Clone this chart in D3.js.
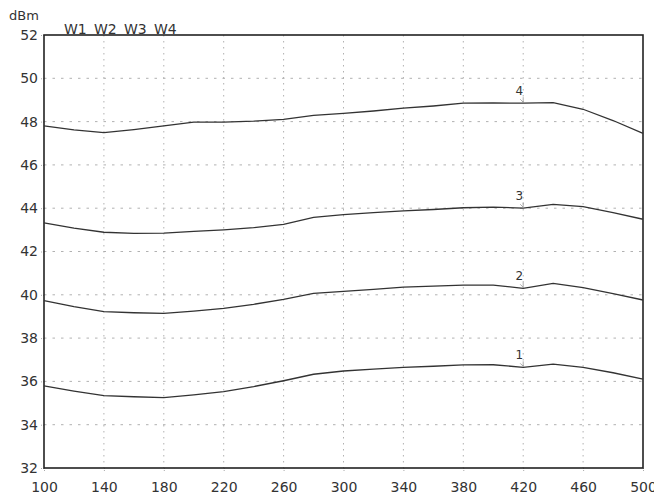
<!DOCTYPE html>
<html>
<head>
<meta charset="utf-8">
<script src="https://cdn.jsdelivr.net/npm/d3@7"></script>
<style>
  body { margin: 0; background: #fff; overflow: hidden; }
  svg text { font-family: "DejaVu Sans", Verdana, sans-serif; fill: #333; }
</style>
</head>
<body>
<div id="chart"></div>
<script>
// frequency points (MHz)
var freqs = [100,120,140,160,180,200,220,240,260,280,300,320,340,360,380,400,420,440,460,480,500];

// output power per trace (dBm)
var trace1 = [35.79,35.55,35.34,35.29,35.25,35.38,35.53,35.76,36.03,36.33,36.48,36.57,36.65,36.70,36.76,36.77,36.65,36.80,36.65,36.40,36.10];
var trace2 = [39.73,39.45,39.22,39.17,39.14,39.25,39.37,39.56,39.79,40.07,40.16,40.25,40.35,40.40,40.45,40.45,40.30,40.53,40.33,40.05,39.76];
var trace3 = [43.32,43.08,42.89,42.84,42.85,42.93,43.00,43.10,43.25,43.58,43.70,43.80,43.88,43.94,44.02,44.05,44.00,44.18,44.07,43.80,43.49];
var trace4 = [47.80,47.62,47.49,47.63,47.80,47.98,47.98,48.02,48.10,48.29,48.38,48.49,48.62,48.72,48.85,48.86,48.85,48.88,48.57,48.05,47.46];

var traceNames = ["1","2","3","4"];
var legendLabels = ["W1","W2","W3","W4"];
var markerFreq = 420;

var xTicks = [100,140,180,220,260,300,340,380,420,460,500];
var yTicks = [32,34,36,38,40,42,44,46,48,50,52];

var W = 654, H = 495;
var margin = {top: 35, right: 11, bottom: 27, left: 44};

var svg = d3.select("#chart").append("svg")
            .attr("width", W)
            .attr("height", H);

var x = d3.scaleLinear().domain([100,500]).range([margin.left, W - margin.right]);
var y = d3.scaleLinear().domain([32,52]).range([H - margin.bottom, margin.top]);

// grid
svg.append("g").selectAll("line.vg")
   .data(xTicks.slice(1, -1))
   .enter().append("line")
     .attr("x1", d => x(d)).attr("x2", d => x(d))
     .attr("y1", y(52)).attr("y2", y(32))
     .attr("stroke", "#a8a8a8")
     .attr("stroke-width", 0.9)
     .attr("stroke-dasharray", "1.5,4.5");

svg.append("g").selectAll("line.hg")
   .data(yTicks.slice(1, -1))
   .enter().append("line")
     .attr("x1", x(100)).attr("x2", x(500))
     .attr("y1", d => y(d)).attr("y2", d => y(d))
     .attr("stroke", "#a8a8a8")
     .attr("stroke-width", 0.9)
     .attr("stroke-dasharray", "2.5,6");

// axes
var xAxis = d3.axisBottom(x).tickValues(xTicks).tickSize(3).tickPadding(11);
var yAxis = d3.axisLeft(y).tickValues(yTicks).tickSize(3).tickPadding(3);

var gx = svg.append("g")
   .attr("transform", `translate(0,${y(32)})`)
   .call(xAxis);
var gy = svg.append("g")
   .attr("transform", `translate(${x(100)},0)`)
   .call(yAxis);

[gx, gy].forEach(function(g){
  g.select(".domain").remove();
  g.selectAll(".tick line").attr("stroke", "#aaa").attr("stroke-dasharray", "1,1");
  g.selectAll(".tick text").style("font-size", "14px").attr("fill", "#333");
});

// frame
svg.append("rect")
   .attr("x", x(100)).attr("y", y(52))
   .attr("width", x(500) - x(100))
   .attr("height", y(32) - y(52))
   .attr("fill", "none")
   .attr("stroke", "#222")
   .attr("stroke-width", 1.6);

// traces
var line = d3.line()
             .x((d, i) => x(freqs[i]))
             .y(d => y(d));

var traces = [trace1, trace2, trace3, trace4];

svg.append("g").selectAll("path.trace")
   .data(traces)
   .enter().append("path")
     .attr("d", line)
     .attr("fill", "none")
     .attr("stroke", "#333")
     .attr("stroke-width", 1.3);

// markers at 420
var mi = freqs.indexOf(markerFreq);
var markers = svg.append("g").selectAll("g.marker")
   .data(traces)
   .enter().append("g");

markers.append("path")
   .attr("d", function(d){
     var mx = x(markerFreq), my = y(d[mi]);
     return `M ${mx} ${my-1} L ${mx-3} ${my-4} M ${mx} ${my-1} L ${mx} ${my-6}`;
   })
   .attr("fill", "none")
   .attr("stroke", "#999")
   .attr("stroke-width", 0.8);

markers.append("text")
   .attr("x", x(markerFreq) - 4)
   .attr("y", d => y(d[mi]) - 8)
   .attr("text-anchor", "middle")
   .style("font-size", "12px")
   .text((d, i) => traceNames[i]);

// unit label
svg.append("text")
   .attr("x", 9).attr("y", 20)
   .style("font-size", "13px")
   .text("dBm");

// legend
svg.append("g").selectAll("text.leg")
   .data(legendLabels)
   .enter().append("text")
     .attr("x", (d, i) => 64 + i * 30)
     .attr("y", 34)
     .style("font-size", "14px")
     .text(d => d);
</script>
</body>
</html>
